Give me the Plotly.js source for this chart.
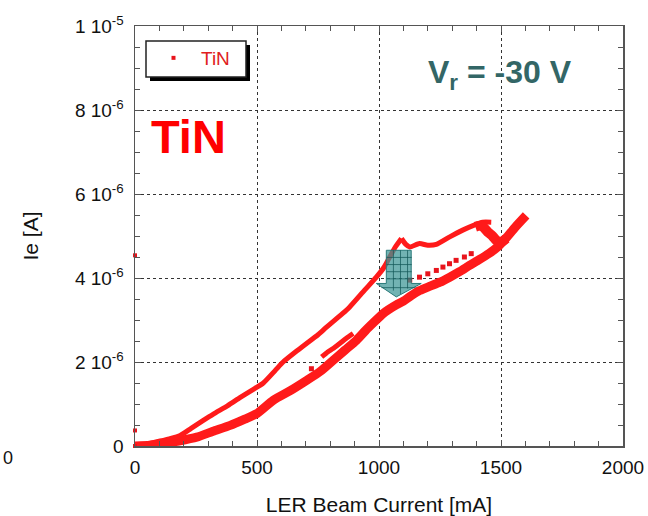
<!DOCTYPE html>
<html>
<head>
<meta charset="utf-8">
<script src="https://cdn.plot.ly/plotly-3.0.1.min.js"></script>
<style>html,body{margin:0;padding:0;background:#fff;}#chart{width:648px;height:516px;}</style>
</head>
<body>
<div id="chart"></div>
<script>
// Values. Beam current in mA, electron current Ie in µA (converted to A below).
const risingX = [0, 40, 90, 140, 185, 230, 280, 321, 380, 430, 480, 526, 575, 607, 660, 703, 750, 785, 850, 880, 941, 989, 1020, 1044, 1065, 1092];
const risingY = [0, 0.03, 0.10, 0.17, 0.25, 0.42, 0.61, 0.76, 0.96, 1.15, 1.33, 1.50, 1.80, 2.00, 2.25, 2.44, 2.65, 2.83, 3.15, 3.31, 3.71, 4.02, 4.25, 4.50, 4.72, 4.94];

const plateauX = [1092, 1110, 1126, 1166, 1200, 1235, 1290, 1343, 1390, 1425, 1460];
const plateauY = [4.94, 4.80, 4.74, 4.82, 4.78, 4.80, 4.98, 5.14, 5.26, 5.33, 5.33];

const clusterX = [1395, 1420, 1445, 1465, 1480, 1500, 1521];
const clusterY = [5.22, 5.25, 5.10, 5.00, 4.90, 4.85, 4.94];

const returnX = [1603, 1560, 1521, 1490, 1450, 1400, 1371, 1330, 1290, 1250, 1207, 1166, 1130, 1100, 1071, 1040, 1016, 980, 945, 908, 860, 812, 760, 703, 640, 567, 499, 450, 390, 320, 253, 180, 117, 60, 0];
const returnY = [5.49, 5.22, 4.95, 4.76, 4.58, 4.40, 4.30, 4.15, 4.02, 3.90, 3.80, 3.70, 3.57, 3.45, 3.36, 3.25, 3.15, 2.95, 2.75, 2.52, 2.28, 2.04, 1.78, 1.56, 1.33, 1.09, 0.77, 0.64, 0.49, 0.35, 0.21, 0.12, 0.06, 0.02, 0];

const subLoopX = [765, 790, 812, 839, 865, 894];
const subLoopY = [2.12, 2.24, 2.32, 2.44, 2.56, 2.68];

const sparseX = [1126, 1166, 1200, 1235, 1262, 1289, 1316, 1350, 1378, 723];
const sparseY = [3.95, 4.02, 4.10, 4.18, 4.26, 4.34, 4.42, 4.50, 4.58, 1.84];

const outlierX = [0, 0, 0];
const outlierY = [4.54, 0.37, 0];

const xTickVals = [0, 500, 1000, 1500, 2000];
const yTickVals = [0, 2e-6, 4e-6, 6e-6, 8e-6, 1e-5];
const yTickText = ['0', '2 10<sup>-6</sup>', '4 10<sup>-6</sup>', '6 10<sup>-6</sup>', '8 10<sup>-6</sup>', '1 10<sup>-5</sup>'];

const toA = arr => arr.map(v => v * 1e-6);
const RED = '#ff1a1a';

function lineTrace(x, y, w) {
  return {x: x, y: toA(y), type: 'scatter', mode: 'lines', showlegend: false, hoverinfo: 'skip',
    line: {color: RED, width: w, shape: 'spline', smoothing: 0.6}};
}

const traces = [
  lineTrace(returnX, returnY, 9),
  lineTrace(risingX, risingY, 5),
  lineTrace(plateauX, plateauY, 5),
  lineTrace(clusterX, clusterY, 10),
  lineTrace(subLoopX, subLoopY, 5),
  {x: sparseX, y: toA(sparseY), type: 'scatter', mode: 'markers', showlegend: false,
   marker: {color: '#e8141c', size: 5, symbol: 'square'}},
  {x: outlierX, y: toA(outlierY), type: 'scatter', mode: 'markers', name: 'TiN', showlegend: true,
   cliponaxis: false, marker: {color: '#e8141c', size: 4, symbol: 'square'}}
];

const FONT = 'Liberation Sans, Arial, Helvetica, sans-serif';
const L = 135, R = 25, T = 26, B = 70;
const PW = 648 - L - R, PH = 516 - T - B;
const px = v => (v - L) / PW;
const py = v => (516 - B - v) / PH;

const axisCommon = {
  showline: true, linecolor: '#555', linewidth: 1.5, mirror: 'allticks',
  ticks: 'inside', ticklen: 6, tickcolor: '#555', tickwidth: 1,
  showgrid: true, gridcolor: '#333', griddash: 'dot', gridwidth: 1,
  zeroline: false, tickfont: {size: 19, color: '#111', family: FONT}
};

// teal grid lines inside the arrow
const gridPath = 'M 1059,0.466 L 1059,0.370 M 1088,0.466 L 1088,0.362 M 1117,0.466 L 1117,0.375 ' +
  'M 1031,0.449 L 1134,0.449 M 1031,0.432 L 1134,0.432 M 1031,0.415 L 1134,0.415 M 1031,0.398 L 1134,0.398 ' +
  'M 1010,0.377 L 1150,0.377';

const layout = {
  width: 648, height: 516,
  margin: {l: L, r: R, t: T, b: B},
  paper_bgcolor: '#fff', plot_bgcolor: '#fff',
  font: {family: FONT, color: '#111'},
  xaxis: Object.assign({}, axisCommon, {
    range: [0, 2000], tickvals: xTickVals, ticklabelstandoff: 4,
    minor: {dtick: 100, ticks: 'inside', ticklen: 5, tickcolor: '#555', showgrid: false},
    title: {text: 'LER Beam Current [mA]', font: {size: 21, family: FONT, color: '#111'}, standoff: 20}
  }),
  yaxis: Object.assign({}, axisCommon, {
    range: [0, 1e-5], tickvals: yTickVals, ticktext: yTickText, ticklabelstandoff: 6,
    minor: {dtick: 5e-7, ticks: 'inside', ticklen: 5, tickcolor: '#555', showgrid: false},
    title: {text: 'Ie [A]', font: {size: 21, family: FONT, color: '#111'}, standoff: 30}
  }),
  showlegend: true,
  legend: {
    x: px(146), y: py(58), xanchor: 'left', yanchor: 'middle',
    bgcolor: 'rgba(0,0,0,0)', borderwidth: 0,
    font: {size: 19, color: '#e02020', family: FONT}, itemwidth: 45
  },
  shapes: [
    {type: 'rect', xref: 'paper', yref: 'paper', x0: px(150), x1: px(250), y0: py(81), y1: py(45),
     fillcolor: '#000', line: {width: 0}, layer: 'above'},
    {type: 'rect', xref: 'paper', yref: 'paper', x0: px(146), x1: px(246), y0: py(77), y1: py(41),
     fillcolor: '#fff', line: {color: '#222', width: 1.5}, layer: 'above'},
    {type: 'path', xref: 'x', yref: 'paper',
     path: 'M 1030,0.466 L 1132,0.466 L 1132,0.387 L 1173,0.387 L 1071,0.355 L 989,0.387 L 1030,0.387 Z',
     fillcolor: 'rgba(60,150,150,0.72)', line: {color: '#2a7a7a', width: 1}, layer: 'above'},
    {type: 'path', xref: 'x', yref: 'paper', path: gridPath,
     line: {color: 'rgba(20,90,90,0.75)', width: 1}, layer: 'above'}
  ],
  annotations: [
    {text: '<b>TiN</b>', xref: 'paper', yref: 'paper', x: px(149), y: py(137), xanchor: 'left', yanchor: 'middle',
     showarrow: false, font: {size: 47, color: '#ff0000', family: FONT}},
    {text: '<b>V<sub>r</sub> = -30 V</b>', xref: 'paper', yref: 'paper', x: px(426), y: py(74), xanchor: 'left', yanchor: 'middle',
     showarrow: false, font: {size: 32, color: '#336666', family: FONT}},
    {text: '0', xref: 'paper', yref: 'paper', x: px(1), y: py(458), xanchor: 'left', yanchor: 'middle',
     showarrow: false, font: {size: 18, color: '#111', family: FONT}}
  ]
};

Plotly.newPlot('chart', traces, layout, {displayModeBar: false, staticPlot: true});
</script>
</body>
</html>
